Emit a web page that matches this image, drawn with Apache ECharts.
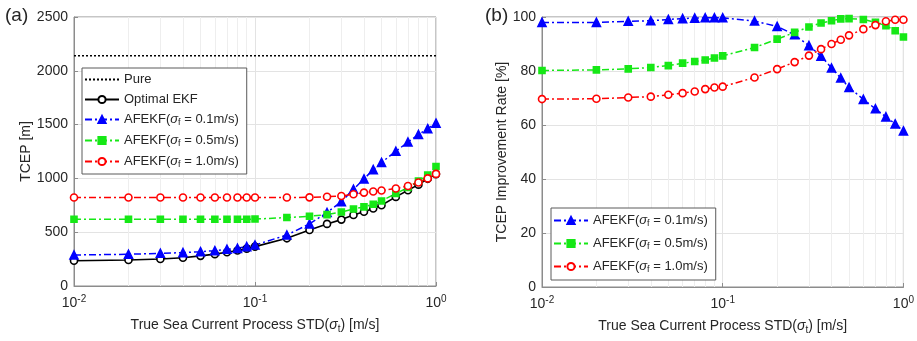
<!DOCTYPE html>
<html>
<head>
<meta charset="utf-8">
<script src="https://cdn.jsdelivr.net/npm/echarts@6/dist/echarts.min.js"></script>
<style>html,body{margin:0;padding:0;background:#fff}#c{width:917px;height:341px}</style>
</head>
<body>
<div id="c"></div>
<script>
// ---- data ----
var sigmaT = [0.01,0.02,0.03,0.04,0.05,0.06,0.07,0.08,0.09,0.1,0.15,0.2,0.25,0.3,0.35,0.4,0.45,0.5,0.6,0.7,0.8,0.9,1.0];
var pureTCEP = 2140;
var optimalEKF = [235,242,251,263,280,296,313,330,347,366,443,521,577,617,660,690,720,750,828,890,942,996,1040];
var afekf01 = [288,295,304,310,319,328,341,350,366,381,474,577,683,784,899,995,1082,1148,1252,1338,1408,1462,1513];
var afekf05 = [620,620,620,620,620,620,620,620,620,622,636,648,663,688,715,735,760,790,860,915,975,1030,1110];
var afekf10 = [822,822,822,822,822,822,822,822,822,822,822,824,830,836,853,868,878,888,906,930,962,1000,1042];
var rate01 = [98.0,98.0,98.4,98.6,99.1,99.4,99.6,99.7,99.7,99.7,98.5,96.5,93.4,89.4,85.5,81.1,77.4,73.9,69.5,66.0,63.0,60.4,57.8];
var rate05 = [80.2,80.4,80.8,81.3,82.0,82.9,83.5,84.1,84.8,85.6,88.7,91.8,94.3,96.3,97.8,98.6,99.3,99.4,99.1,98.0,96.8,94.9,92.6];
var rate10 = [69.6,69.7,70.2,70.5,71.2,71.8,72.4,73.3,73.9,74.2,77.6,80.7,83.3,85.7,88.1,90.0,91.6,93.2,95.5,97.0,98.4,99.0,99.0];
var minorGridX = [0.02,0.03,0.04,0.05,0.06,0.07,0.08,0.09,0.2,0.3,0.4,0.5,0.6,0.7,0.8,0.9];
var leftYTicks = {min:0, max:2500, interval:500};
var rightYTicks = {min:0, max:100, interval:20};
var names = ['Pure','Optimal EKF','AFEKF(σf = 0.1m/s)','AFEKF(σf = 0.5m/s)','AFEKF(σf = 1.0m/s)'];

function pairs(ys){ return sigmaT.map(function(x,i){return [x, ys[i]];}); }

var txt = '#262626';
var font = 'Liberation Sans, Arial, sans-serif';
var dashDot = [7,3,2,3];

function xAxisCfg(gi){
  return {
    type:'log', logBase:10, gridIndex:gi, min:0.01, max:1,
    name:'{n|True Sea Current Process STD(}{i|σ}{s|t}{n|) [m/s]}',
    nameLocation:'middle', nameGap:30,
    nameTextStyle:{rich:{
      n:{fontSize:14, color:txt, fontFamily:font},
      i:{fontSize:14, color:txt, fontFamily:font, fontStyle:'italic'},
      s:{fontSize:10, color:txt, fontFamily:font, verticalAlign:'bottom', padding:[8,0,0,0]}
    }},
    axisLine:{show:true, lineStyle:{color:'#8c8c8c'}},
    axisTick:{show:true, inside:true, length:4, lineStyle:{color:'#8c8c8c'}},
    splitLine:{show:true, lineStyle:{color:'#e3e3e3'}},
    axisLabel:{margin:8, formatter:function(v){
        var e = Math.round(Math.log10(v));
        return '{b|10}{e|' + e + '}';
      },
      rich:{
        b:{fontSize:14, color:txt, fontFamily:font},
        e:{fontSize:10, color:txt, fontFamily:font, verticalAlign:'top', padding:[0,0,8,0]}
      }
    }
  };
}
function yAxisCfg(gi, t, name, gap){
  return {
    type:'value', gridIndex:gi, min:t.min, max:t.max, interval:t.interval,
    name:name, nameLocation:'middle', nameGap:gap,
    nameTextStyle:{fontSize:14, color:txt, fontFamily:font},
    axisLine:{show:true, lineStyle:{color:'#8c8c8c'}},
    axisTick:{show:true, inside:true, length:4, lineStyle:{color:'#8c8c8c'}},
    splitLine:{show:true, lineStyle:{color:'#e3e3e3'}},
    axisLabel:{fontSize:14, color:txt, fontFamily:font, margin:6, formatter:function(v){return String(v);}}
  };
}
function minorSeries(xi, yi){
  return {
    type:'line', xAxisIndex:xi, yAxisIndex:yi, data:[], silent:true, z:1,
    markLine:{silent:true, symbol:'none', z:1, label:{show:false},
      lineStyle:{color:'#eeeeee', type:'solid', width:1},
      data: minorGridX.map(function(v){return {xAxis:v};})
    }
  };
}
function mk(name, xi, yi, ys, color, symbol, size, filled, ltype, lwidth){
  return {
    name:name, type:'line', xAxisIndex:xi, yAxisIndex:yi, data:pairs(ys), z:3,
    symbol:symbol, symbolSize:size, showAllSymbol:true,
    lineStyle:{color:color, width:lwidth, type:ltype},
    itemStyle:{color: filled ? color : '#ffffff', borderColor:color, borderWidth:1.6},
    color:color
  };
}
var legendRich = {
  a:{fontSize:13, color:txt, fontFamily:font},
  i:{fontSize:13, color:txt, fontFamily:font, fontStyle:'italic'},
  s:{fontSize:9, color:txt, fontFamily:font, verticalAlign:'bottom', padding:[6,0,0,0]}
};
function legendFmt(n){
  var m = n.match(/^AFEKF\(σf(.*)$/);
  if (m) return '{a|AFEKF(}{i|σ}{s|f}{a|' + m[1] + '}';
  return '{a|' + n + '}';
}
var leftLegendData = names.map(function(n, i){
  return i === 0 ? {name:n, itemStyle:{opacity:0}} : {name:n};
});

var chart = echarts.init(document.getElementById('c'), null, {renderer:'canvas'});
chart.setOption({
  backgroundColor:'#ffffff',
  animation:false,
  graphic:[
    {type:'text', left:5, top:6, style:{text:'(a)', fontSize:19, fill:txt, fontFamily:font}},
    {type:'text', left:485, top:6, style:{text:'(b)', fontSize:19, fill:txt, fontFamily:font}}
  ],
  grid:[
    {left:74, right:481, top:17, bottom:55, show:true, borderColor:'#8c8c8c', borderWidth:1},
    {left:542, right:11, top:17, bottom:54, show:true, borderColor:'#8c8c8c', borderWidth:1}
  ],
  xAxis:[xAxisCfg(0), xAxisCfg(1)],
  yAxis:[yAxisCfg(0, leftYTicks, 'TCEP [m]', 41), yAxisCfg(1, rightYTicks, 'TCEP Improvement Rate [%]', 30)],
  legend:[
    {left:82, top:68, orient:'vertical', itemWidth:34, itemHeight:9, itemGap:7,
     backgroundColor:'#ffffff', borderColor:'#5a5a5a', borderWidth:1, padding:[5,8,5,2],
     data:leftLegendData, formatter:legendFmt, textStyle:{rich:legendRich}},
    {left:551, top:208, orient:'vertical', itemWidth:34, itemHeight:9, itemGap:9,
     backgroundColor:'#ffffff', borderColor:'#5a5a5a', borderWidth:1, padding:[6,8,6,2],
     data:names.slice(2), formatter:legendFmt, textStyle:{rich:legendRich}}
  ],
  series:[
    minorSeries(0,0), minorSeries(1,1),
    {name:names[0], type:'line', xAxisIndex:0, yAxisIndex:0, z:3, symbol:'none',
     data: sigmaT.map(function(x){return [x, pureTCEP];}),
     lineStyle:{color:'#000', width:1.5, type:[2,2]}, itemStyle:{color:'#000'}, color:'#000'},
    mk(names[1],0,0,optimalEKF,'#000000','circle',7,false,'solid',1.6),
    mk(names[2],0,0,afekf01,'#0000ff','triangle',8,true,dashDot,1.5),
    mk(names[3],0,0,afekf05,'#16e816','rect',6,true,dashDot,1.5),
    mk(names[4],0,0,afekf10,'#ff0000','circle',7,false,dashDot,1.5),
    mk(names[2],1,1,rate01,'#0000ff','triangle',8,true,dashDot,1.5),
    mk(names[3],1,1,rate05,'#16e816','rect',6,true,dashDot,1.5),
    mk(names[4],1,1,rate10,'#ff0000','circle',7,false,dashDot,1.5)
  ]
});
</script>
</body>
</html>
